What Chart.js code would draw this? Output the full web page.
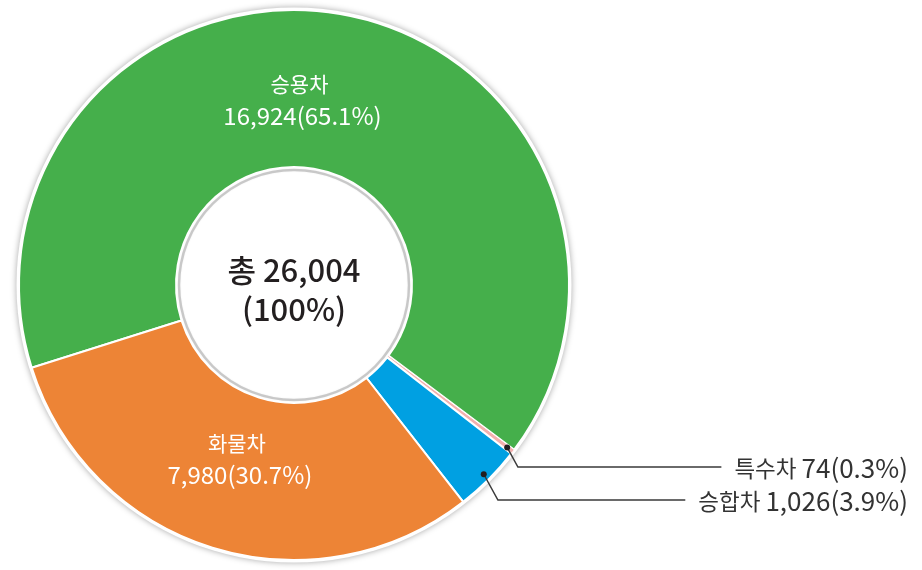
<!DOCTYPE html>
<html>
<head>
<meta charset="utf-8">
<script src="https://cdn.jsdelivr.net/npm/chart.js@4.4.0/dist/chart.umd.min.js"></script>
<style>
  html, body { margin: 0; padding: 0; background: #fff; }
  #wrap { width: 922px; height: 570px; }
</style>
</head>
<body>
<div id="wrap"><canvas id="vehicleChart"></canvas></div>
<script>
// --- data ---
const categories = ["승용차", "특수차", "승합차", "화물차"];
const counts = [16924, 74, 1026, 7980];
const shares = [65.1, 0.3, 3.9, 30.7];
const sliceColors = ["#45af4b", "#f3b0ae", "#00a0e2", "#ed8436"];
const totalLines = ["총 26,004", "(100%)"];

const FONT = '"Noto Sans CJK KR", "Noto Sans", sans-serif';

function fmt(i) {
  return counts[i].toLocaleString("en-US") + "(" + shares[i].toFixed(1) + "%)";
}

// labels drawn inside the big slices: t = fraction along the arc, r = fraction of ring depth
const insideLabels = { 0: { t: 0.47, r: 0.43 }, 3: { t: 0.5, r: 0.41 } };
// small slices get a leader line to text on the right, dy = line height below centre
const callouts = { 1: { dy: 182 }, 2: { dy: 215 } };

const ringDeco = {
  id: "ringDeco",
  beforeDatasetsDraw(chart) {
    const a = chart.getDatasetMeta(0).data[0];
    const ctx = chart.ctx;
    ctx.save();
    ctx.shadowColor = "rgba(0,0,0,0.35)";
    ctx.shadowBlur = 6;
    ctx.fillStyle = "#fff";
    ctx.beginPath();
    ctx.arc(a.x, a.y, a.outerRadius + 2.5, 0, Math.PI * 2);
    ctx.fill();
    ctx.restore();
  },
  afterDatasetsDraw(chart) {
    const meta = chart.getDatasetMeta(0);
    const a0 = meta.data[0];
    const cx = a0.x, cy = a0.y;
    const ctx = chart.ctx;
    ctx.save();

    // grey rim inside the hole
    ctx.strokeStyle = "rgba(0,0,0,0.18)";
    ctx.lineWidth = 2.5;
    ctx.shadowColor = "rgba(0,0,0,0.3)";
    ctx.shadowBlur = 2;
    ctx.beginPath();
    ctx.arc(cx, cy, a0.innerRadius - 3, 0, Math.PI * 2);
    ctx.stroke();
    ctx.shadowBlur = 0;

    // total in the middle
    ctx.fillStyle = "#231f20";
    ctx.textAlign = "center";
    ctx.textBaseline = "middle";
    ctx.font = "500 31px " + FONT;
    ctx.fillText(totalLines[0], cx, cy - 15);
    ctx.fillText(totalLines[1], cx, cy + 24);

    // labels inside big slices
    ctx.fillStyle = "#fff";
    Object.keys(insideLabels).forEach(k => {
      const i = +k, arc = meta.data[i], o = insideLabels[k];
      const ang = arc.startAngle + (arc.endAngle - arc.startAngle) * o.t;
      const r = arc.innerRadius + (arc.outerRadius - arc.innerRadius) * o.r;
      const x = cx + r * Math.cos(ang), y = cy + r * Math.sin(ang);
      ctx.font = "400 21px " + FONT;
      ctx.fillText(categories[i], x - 3, y - 16);
      ctx.font = "400 24px " + FONT;
      ctx.fillText(fmt(i), x, y + 16);
    });

    // leader lines for the thin slices
    const textRight = chart.width - 14;
    ctx.textAlign = "left";
    Object.keys(callouts).forEach(k => {
      const i = +k, arc = meta.data[i], o = callouts[k];
      const ang = (arc.startAngle + arc.endAngle) / 2;
      const r = arc.outerRadius - 7;
      const px = cx + r * Math.cos(ang), py = cy + r * Math.sin(ang);
      const ly = cy + o.dy;
      const ex = px + (ly - py) * 0.55;
      const nameFont = "400 22.5px " + FONT, numFont = "400 26px " + FONT;
      ctx.font = nameFont;
      const nw = ctx.measureText(categories[i] + " ").width;
      ctx.font = numFont;
      const vw = ctx.measureText(fmt(i)).width;
      const tx = textRight - nw - vw;
      ctx.strokeStyle = "#3a3a3a";
      ctx.lineWidth = 1.5;
      ctx.beginPath();
      ctx.moveTo(px, py);
      ctx.lineTo(ex, ly);
      ctx.lineTo(tx - 13, ly);
      ctx.stroke();
      ctx.fillStyle = "#231f20";
      ctx.beginPath();
      ctx.arc(px, py, 3, 0, Math.PI * 2);
      ctx.fill();
      ctx.fillStyle = "#333";
      ctx.font = nameFont;
      ctx.fillText(categories[i] + " ", tx, ly + 1);
      ctx.font = numFont;
      ctx.fillText(fmt(i), tx + nw, ly + 1);
    });
    ctx.restore();
  }
};

new Chart(document.getElementById("vehicleChart"), {
  type: "doughnut",
  data: {
    labels: categories,
    datasets: [{
      data: counts,
      backgroundColor: sliceColors,
      borderColor: "#fff",
      borderWidth: [2, 1, 2, 2]
    }]
  },
  options: {
    responsive: true,
    maintainAspectRatio: false,
    animation: false,
    rotation: 252.5,
    cutout: "42.9%",
    layout: { padding: { left: 18, right: 352, top: 9, bottom: 9 } },
    plugins: {
      legend: { display: false },
      tooltip: { enabled: false }
    }
  },
  plugins: [ringDeco]
});
</script>
</body>
</html>
